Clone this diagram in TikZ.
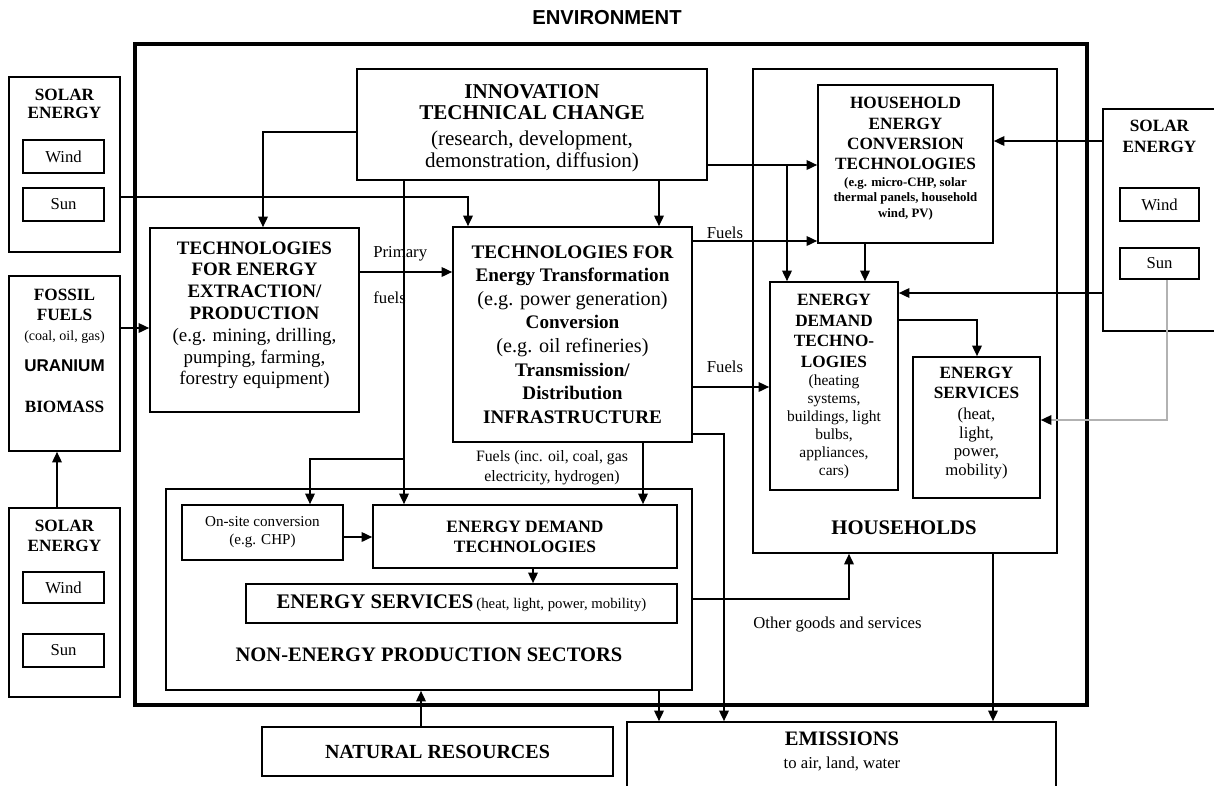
\documentclass[tikz,border=0pt]{standalone}
\usepackage{fontspec}
\setmainfont{Liberation Serif}
\newfontfamily\arialfont{Liberation Sans}
\usetikzlibrary{arrows.meta}
\newcommand{\fs}[2]{\fontsize{#1}{#2}\selectfont}
\begin{document}
\begin{tikzpicture}[x=0.02cm,y=-0.02cm,
	box/.style={draw,line width=1pt,align=center,inner sep=1pt},
	lbl/.style={align=center,inner sep=0pt},
	arr/.style={line width=0.8pt,-{Triangle[length=6pt,width=5.5pt]}}]
	\useasboundingbox (0,0) rectangle (1214,785);
	\node[lbl,font=\arialfont\bfseries\fs{11.5}{13}] (env) at (607,18) {ENVIRONMENT};
	\draw[line width=2.8pt] (135,44) rectangle (1087,705);

	\node[box,minimum width=2.22cm,minimum height=3.5cm] (solarL) at (64.5,164.5) {};
	\node[lbl,font=\bfseries\fs{9.8}{10.3}] (solarLt) at (64.5,104) {SOLAR\\ENERGY};
	\node[box,minimum width=1.62cm,minimum height=0.66cm,font=\fs{9.5}{11}] (windL) at (63.5,156.5) {Wind};
	\node[box,minimum width=1.62cm,minimum height=0.66cm,font=\fs{9.5}{11}] (sunL) at (63.5,204.5) {Sun};

	\node[box,minimum width=2.22cm,minimum height=3.5cm] (fossil) at (64.5,363.5) {};
	\node[lbl,font=\bfseries\fs{9.8}{11.3}] (fossilt) at (64.5,305) {FOSSIL\\FUELS};
	\node[lbl,font=\fs{8}{10}] (coal) at (64.5,337) {(coal, oil, gas)};
	\node[lbl,font=\arialfont\bfseries\fs{9.7}{11}] (uranium) at (64.5,366) {URANIUM};
	\node[lbl,font=\bfseries\fs{9.8}{11}] (biomass) at (64.5,407) {BIOMASS};

	\node[box,minimum width=2.22cm,minimum height=3.78cm] (solarB) at (64.5,602.5) {};
	\node[lbl,font=\bfseries\fs{9.8}{11.5}] (solarBt) at (64.5,535.5) {SOLAR\\ENERGY};
	\node[box,minimum width=1.62cm,minimum height=0.62cm,font=\fs{9.5}{11}] (windB) at (63.5,587.5) {Wind};
	\node[box,minimum width=1.62cm,minimum height=0.66cm,font=\fs{9.5}{11}] (sunB) at (63.5,650.5) {Sun};

	\node[box,minimum width=7cm,minimum height=2.22cm] (innov) at (532,124.5) {};
	\node[lbl,font=\bfseries\fs{12}{11.9}] (innovt) at (532,102.5) {INNOVATION\\TECHNICAL CHANGE};
	\node[lbl,font=\fs{12}{13}] (innovs) at (532,151.5) {(research, development,\\demonstration, diffusion)};

	\node[box,minimum width=4.18cm,minimum height=3.68cm] (extract) at (254.5,320) {};
	\node[lbl,font=\bfseries\fs{10.8}{12.3}] (extractt) at (254.5,280.5) {TECHNOLOGIES\\FOR ENERGY\\EXTRACTION/\\PRODUCTION};
	\node[lbl,font=\fs{10.8}{12.2}] (extracts) at (254.5,358.5) {(e.g. mining, drilling,\\pumping, farming,\\forestry equipment)};

	\node[box,minimum width=4.78cm,minimum height=4.3cm,font=\bfseries\fs{10.9}{13.4}] (transf) at (572.5,334.5) {TECHNOLOGIES FOR\\Energy Transformation\\{\mdseries\fs{11.5}{13.4}(e.g. power generation)}\\Conversion\\{\mdseries\fs{11.5}{13.4}(e.g. oil refineries)}\\Transmission/\\Distribution\\INFRASTRUCTURE};

	\node[box,minimum width=6.08cm,minimum height=9.68cm] (hh) at (905,311) {};
	\node[lbl,font=\bfseries\fs{11.8}{13}] (hht) at (904,528) {HOUSEHOLDS};
	\node[box,minimum width=3.5cm,minimum height=3.16cm] (hect) at (905.5,164) {};
	\node[lbl,font=\bfseries\fs{9.8}{11.5}] (hectt) at (905.5,133.5) {HOUSEHOLD\\ENERGY\\CONVERSION\\TECHNOLOGIES};
	\node[lbl,font=\bfseries\fs{7.3}{8.8}] (hects) at (905.5,198.5) {(e.g. micro-CHP, solar\\thermal panels, household\\wind, PV)};
	\node[box,minimum width=2.56cm,minimum height=4.16cm] (edtH) at (834,386) {};
	\node[lbl,font=\bfseries\fs{9.8}{11.7}] (edtHt) at (834,331) {ENERGY\\DEMAND\\TECHNO-\\LOGIES};
	\node[lbl,font=\fs{8.8}{10.2}] (edtHs) at (834,427) {(heating\\systems,\\buildings, light\\bulbs,\\appliances,\\cars)};
	\node[box,minimum width=2.54cm,minimum height=2.82cm] (esH) at (976.5,427.5) {};
	\node[lbl,font=\bfseries\fs{9.8}{11.3}] (esHt) at (976.5,383) {ENERGY\\SERVICES};
	\node[lbl,font=\fs{9.5}{10.8}] (esHs) at (976.5,443.5) {(heat,\\light,\\power,\\mobility)};

	\node[box,minimum width=2.34cm,minimum height=4.44cm] (solarR) at (1161.5,220) {};
	\node[lbl,font=\bfseries\fs{9.8}{12}] (solarRt) at (1159.5,136.5) {SOLAR\\ENERGY};
	\node[box,minimum width=1.58cm,minimum height=0.66cm,font=\fs{9.5}{11}] (windR) at (1159.5,204.5) {Wind};
	\node[box,minimum width=1.58cm,minimum height=0.62cm,font=\fs{9.5}{11}] (sunR) at (1159.5,263.5) {Sun};

	\node[box,minimum width=10.52cm,minimum height=4.02cm] (nonen) at (429,589.5) {};
	\node[lbl,font=\bfseries\fs{11.7}{13}] (nonent) at (429,655) {NON-ENERGY PRODUCTION SECTORS};
	\node[box,minimum width=3.22cm,minimum height=1.1cm,font=\fs{8.6}{10.2}] (onsite) at (262.5,532.5) {On-site conversion\\(e.g. CHP)};
	\node[box,minimum width=6.08cm,minimum height=1.26cm,font=\bfseries\fs{9.9}{11.3}] (edtN) at (525,536.5) {ENERGY DEMAND\\TECHNOLOGIES};
	\node[box,minimum width=8.62cm,minimum height=0.78cm] (esN) at (461.5,603.5) {{\bfseries\fs{11.8}{13}ENERGY SERVICES}\,{\fs{8.4}{10}(heat, light, power, mobility)}};

	\node[box,minimum width=7.02cm,minimum height=0.98cm,font=\bfseries\fs{11.4}{13}] (natres) at (437.5,751.5) {NATURAL RESOURCES};
	\node[box,minimum width=8.58cm,minimum height=1.56cm] (emis) at (841.5,761) {};
	\node[lbl,font=\fs{9.5}{13}] (emist) at (842,751.5) {{\bfseries\fs{11.7}{13}EMISSIONS}\\to air, land, water};

	\node[lbl,anchor=west,font=\fs{9.5}{11}] (primary) at (373,254) {Primary};
	\node[lbl,anchor=west,font=\fs{9.5}{11}] (pfuels) at (373,298) {fuels};
	\node[lbl,font=\fs{9.5}{11}] (fuelsA) at (725,233) {Fuels};
	\node[lbl,font=\fs{9.5}{11}] (fuelsB) at (725,367) {Fuels};
	\node[lbl,font=\fs{9}{11.3}] (fuelsC) at (552,468) {Fuels (inc. oil, coal, gas\\electricity, hydrogen)};
	\node[lbl,anchor=west,font=\fs{9.5}{11}] (other) at (753,624) {Other goods and services};

	\coordinate (brN) at (404,459);
	\coordinate (brH) at (787,165);

	\draw[arr] ([xshift=-0.15cm]solarB.north) -- ([xshift=-0.15cm]fossil.south);
	\draw[arr] (fossil.east |- 0,328) -- (extract.west |- 0,328);
	\draw[arr] (solarL.east |- 0,197) -| (transf.north -| 468,0);
	\draw[arr] (innov.west |- 0,132) -| (extract.north -| 263,0);
	\draw[arr] (innov.south -| 659,0) -- (transf.north -| 659,0);
	\draw[arr] (innov.south -| 404,0) -- (edtN.north -| 404,0);
	\draw[arr] (brN) -| (onsite.north -| 310,0);
	\draw[arr] (innov.east |- 0,165) -- (hect.west |- 0,165);
	\draw[arr] (brH) -- (edtH.north -| 787,0);
	\draw[arr] (extract.east |- 0,272) -- (transf.west |- 0,272);
	\draw[arr] (transf.east |- 0,241) -- (hect.west |- 0,241);
	\draw[arr] (transf.east |- 0,387) -- (edtH.west |- 0,387);
	\draw[arr] (transf.east |- 0,434) -| (emis.north -| 724,0);
	\draw[arr] (transf.south -| 643,0) -- (edtN.north -| 643,0);
	\draw[arr] (onsite.east |- 0,537) -- (edtN.west |- 0,537);
	\draw[arr] (edtN.south -| 533,0) -- (esN.north -| 533,0);
	\draw[arr] (nonen.east |- 0,599) -| (hh.south -| 849,0);
	\draw[arr] (nonen.south -| 659,0) -- (emis.north -| 659,0);
	\draw[arr] (hh.south -| 993,0) -- (emis.north -| 993,0);
	\draw[arr] (natres.north -| 421,0) -- (nonen.south -| 421,0);
	\draw[arr] (hect.south -| 865,0) -- (edtH.north -| 865,0);
	\draw[arr] (edtH.east |- 0,320) -| (esH.north -| 977,0);
	\draw[arr] (solarR.west |- 0,141) -- (hect.east |- 0,141);
	\draw[arr] (solarR.west |- 0,293) -- (edtH.east |- 0,293);
	\draw[line width=0.8pt,gray!60,-{Triangle[length=6pt,width=5.5pt,color=black]}] (sunR.south -| 1167,0) |- (esH.east |- 0,420);
\end{tikzpicture}
\end{document}
